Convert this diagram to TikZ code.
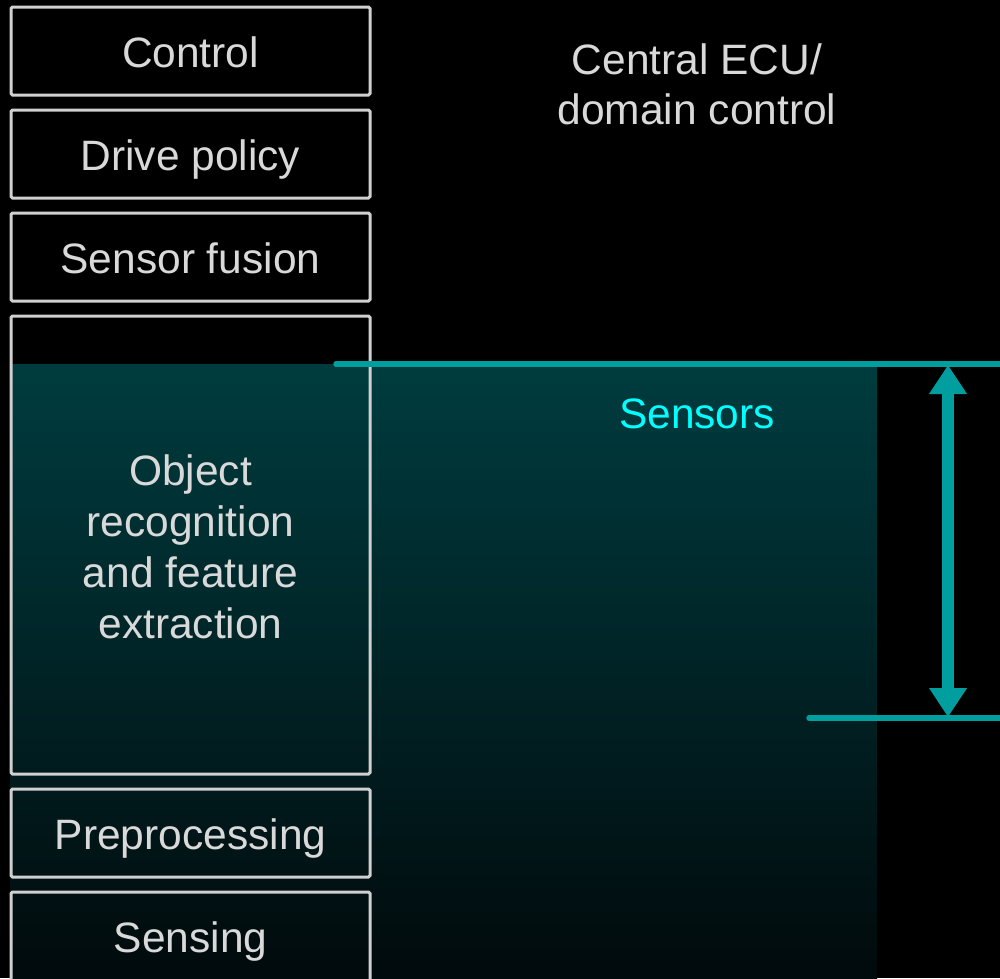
\documentclass[tikz,border=0pt]{standalone}
\usepackage{fontspec}
\setmainfont{Liberation Sans}
\usetikzlibrary{arrows.meta}
\definecolor{boxline}{HTML}{D0D0D0}
\definecolor{txt}{HTML}{D9D9D9}
\definecolor{teal1}{HTML}{009E9E}
\definecolor{sens}{HTML}{00FFFF}
\definecolor{gtop}{HTML}{003C3F}
\definecolor{gbot}{HTML}{010A0C}
\tikzset{
  x=1pt, y=1pt,
  layerbox/.style={draw=boxline, line width=3pt, rounded corners=1.5pt, minimum width=359pt, inner sep=0pt},
  label/.style={text=txt, font=\fontsize{42.5}{50}\selectfont, align=center, inner sep=0pt},
  tealline/.style={draw=teal1, line width=5.5pt, line cap=round},
  dimarrow/.style={draw=teal1, line width=12pt, {Triangle[width=36pt,length=29pt]}-{Triangle[width=36pt,length=29pt]}, shorten <=-1pt, shorten >=-1pt}
}
\begin{document}
\begin{tikzpicture}
\useasboundingbox (0,0) rectangle (1000,-978);
\fill[black] (0,0) rectangle (1000,-978);
\clip (0,0) rectangle (1000,-978);
% gradient band
\shade[top color=gtop, bottom color=gbot] (10,-364) rectangle (877,-978);
% layer boxes
\node[layerbox, minimum height=88pt] (control) at (190.5,-51) {};
\node[layerbox, minimum height=88pt] (drive) at (190.5,-154) {};
\node[layerbox, minimum height=88pt] (fusion) at (190.5,-257) {};
\node[layerbox, minimum height=458pt] (object) at (190.5,-545) {};
\node[layerbox, minimum height=88pt] (pre) at (190.5,-833) {};
\node[layerbox, minimum height=90pt] (sensing) at (190.5,-937) {};
% box texts (baseline placed)
\node[label, anchor=base] (controlT) at (190.5,-67) {Control};
\node[label, anchor=base] (driveT) at (190.5,-170) {Drive policy};
\node[label, anchor=base] (fusionT) at (190.5,-273) {Sensor fusion};
\node[label, anchor=base] (preT) at (190.5,-849) {Preprocessing};
\node[label, anchor=base] (sensingT) at (190.5,-952) {Sensing};
\node[label, font=\fontsize{42.5}{51}\selectfont] (objectT) at (190.5,-547) {Object\\recognition\\and feature\\extraction};
% labels
\node[label] (ecu) at (697,-84) {Central ECU/\\domain control};
\node[text=sens, font=\fontsize{42.5}{50}\selectfont, inner sep=0pt, anchor=base] (sensors) at (697,-428) {Sensors};
% teal dimension lines
\coordinate (t1) at (336,-364);
\coordinate (t2) at (1005,-364);
\coordinate (b1) at (809,-718);
\coordinate (b2) at (1005,-718);
\draw[tealline] (t1) -- (t2);
\draw[tealline] (b1) -- (b2);
\coordinate (at) at (948,-366);
\coordinate (ab) at (948,-716);
\draw[dimarrow] (at) -- (ab);
\end{tikzpicture}
\end{document}
